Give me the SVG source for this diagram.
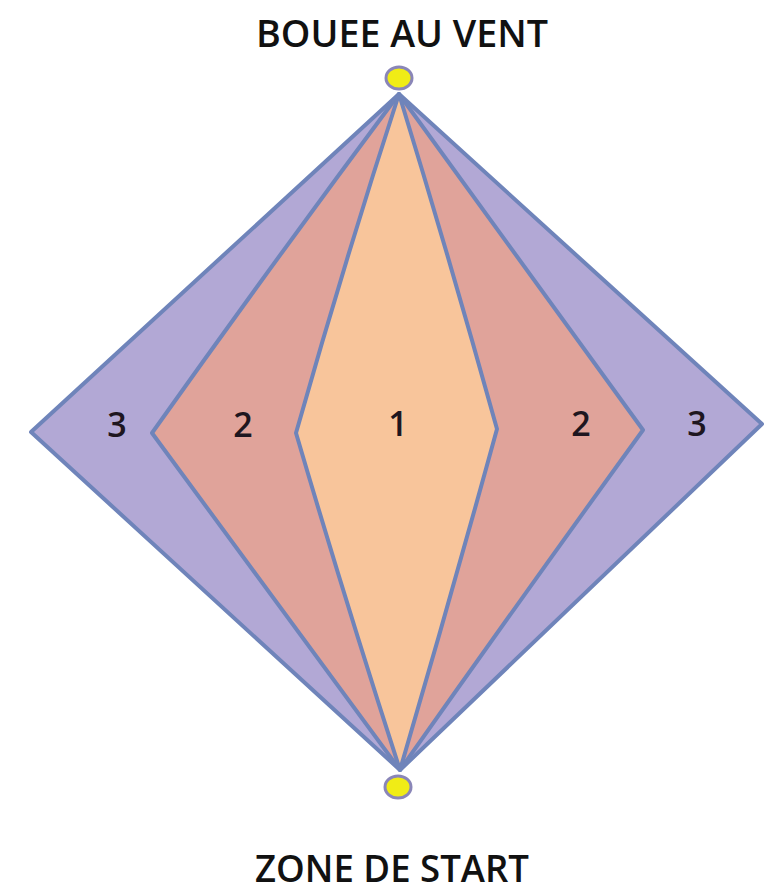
<svg xmlns="http://www.w3.org/2000/svg" width="766" height="892" viewBox="0 0 766 892">
<style>
.zone{stroke:#6F84BA;stroke-width:4;stroke-linejoin:round}
.z3{fill:#B2A8D5}
.z2{fill:#E0A39A}
.z1{fill:#F8C59B}
.num{font-family:"Open Sans","Liberation Sans",sans-serif;font-weight:600;font-size:34px;fill:#1E1620;text-anchor:middle}
.title{font-family:"Open Sans","Liberation Sans",sans-serif;font-weight:600;font-size:38px;fill:#111;text-anchor:middle}
.buoy{fill:#F0EC16;stroke:#8A86B8;stroke-width:3}
</style>
<rect width="766" height="892" fill="#fff"/>
<g id="zone3">
<path class="zone z3" d="M399,94 L762,424 L400,770 L31,432 Z"/>
<text class="num" x="117" y="437">3</text>
<text class="num" x="697" y="436">3</text>
</g>
<g id="zone2">
<path class="zone z2" d="M399,94 Q520,260 643,430 Q520,600 400,770 Q275,600 152,433 Q275,260 399,94 Z"/>
<text class="num" x="243" y="437">2</text>
<text class="num" x="581" y="436">2</text>
</g>
<g id="zone1">
<path class="zone z1" d="M399,94 Q450,260 497,429 Q450,600 400,770 Q345,600 296,433 Q345,260 399,94 Z"/>
<text class="num" x="398" y="436">1</text>
</g>
<g id="bouee">
<ellipse class="buoy" cx="399" cy="78" rx="13" ry="11"/>
<text class="title" x="402" y="47" textLength="292" lengthAdjust="spacingAndGlyphs">BOUEE AU VENT</text>
</g>
<g id="start">
<ellipse class="buoy" cx="398" cy="787" rx="13" ry="11"/>
<text class="title" x="392" y="882" textLength="274" lengthAdjust="spacingAndGlyphs">ZONE DE START</text>
</g>
<g id="connectors"></g>
</svg>
